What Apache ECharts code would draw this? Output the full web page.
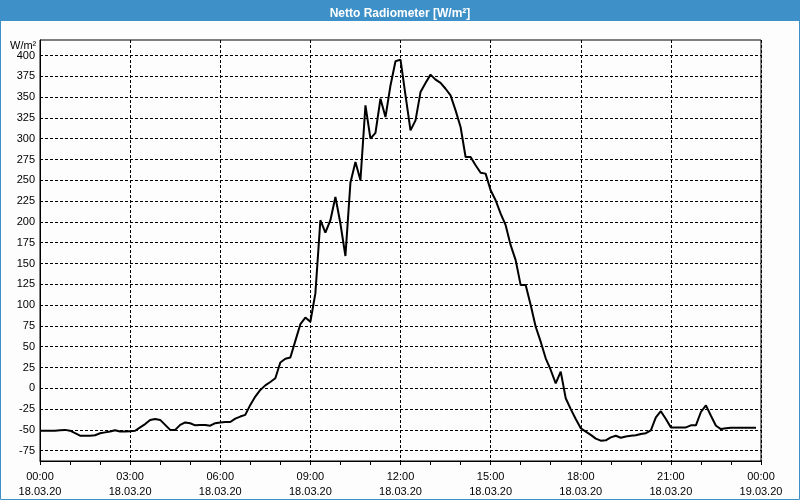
<!DOCTYPE html>
<html>
<head>
<meta charset="utf-8">
<script src="https://cdn.jsdelivr.net/npm/echarts@6/dist/echarts.min.js"></script>
<style>
html,body{margin:0;padding:0;background:#fcfdfc;}
#chart{width:800px;height:500px;}
</style>
</head>
<body>
<div id="chart"></div>
<script>
// ---- data ----
const chartTitle = 'Netto Radiometer [W/m²]';
const unitLabel = 'W/m²';
const dayLabel = '18.03.20';
const nextDayLabel = '19.03.20';
const stepMinutes = 10; // sampling interval, starting at 00:00
const values = [
  -51,-51,-51,-51,-50.5,-50,-51,-54,-57,-57,
  -57,-56.5,-54,-53,-52,-50.5,-52,-52,-51.5,-51,
  -47,-43,-38,-37,-38,-44,-50,-50,-44,-41,
  -42,-44.5,-44,-44,-45,-42,-41,-40.5,-40.5,-36.5,
  -34,-32,-20,-10,-2,3.5,7.5,12,31,35.5,
  37,57,77,85,80,114,202,187,202,230,
  198,159,247,272,250,340,300,307,348,326,
  364,393,395,352,310,322,356,367,377,371,
  367,360,352,334,314,278,278,268,259,258,
  238,226,210,196,172,154,124,124,100,74,
  56,36,22,6,20,-12,-25,-37,-48,-52,
  -56,-60.5,-63,-62.5,-59,-57,-59.5,-58,-57,-56.5,
  -55,-54,-50.5,-35,-27.5,-37,-47,-47,-47,-47,
  -44.5,-44.5,-28.5,-20.5,-33,-45,-49,-48,-47.5,-47.5,
  -47.5,-47.5,-47.5,-47.5
];
const yTicks = [-75,-50,-25,0,25,50,75,100,125,150,175,200,225,250,275,300,325,350,375,400];
const yMin = -87.4, yMax = 418.6;
const xMinHours = 0, xMaxHours = 24, xStepHours = 3;

// ---- chart ----
const font = 'Liberation Sans';
const data = values.map((v, i) => [i * stepMinutes / 60, v]);
function pad(n){ return (n < 10 ? '0' : '') + n; }

const chart = echarts.init(document.getElementById('chart'), null, {renderer: 'canvas'});
chart.setOption({
  animation: false,
  backgroundColor: '#fcfdfc',
  textStyle: {fontFamily: font},
  title: {
    text: chartTitle,
    left: 'center',
    top: 3,
    textStyle: {color: '#ffffff', fontSize: 12, fontWeight: 'bold', fontFamily: font}
  },
  graphic: [
    {type: 'rect', z: -1, shape: {x: 0, y: 0, width: 800, height: 21}, style: {fill: '#3d90c8'}},
    {type: 'rect', z: 100, shape: {x: 0.5, y: 0.5, width: 799, height: 499}, style: {fill: null, stroke: '#3d90c8', lineWidth: 1}},
    {type: 'text', left: 10, top: 40, style: {text: unitLabel, fill: '#000', font: '11px "' + font + '"'}}
  ],
  grid: {left: 40, right: 39, top: 40, bottom: 39, show: true, borderColor: '#000', borderWidth: 1, backgroundColor: 'transparent'},
  xAxis: {
    type: 'value',
    min: xMinHours, max: xMaxHours, interval: xStepHours,
    axisLine: {show: true, onZero: false, lineStyle: {color: '#000', width: 1}},
    axisTick: {show: true, length: 4, lineStyle: {color: '#000'}},
    minorTick: {show: true, splitNumber: 3, length: 4, lineStyle: {color: '#000'}},
    splitLine: {show: true, lineStyle: {color: '#000', type: [3, 2], width: 1}},
    axisLabel: {
      color: '#000', fontSize: 11, lineHeight: 15, margin: 8, fontFamily: font,
      formatter: function (v) {
        const h = Math.round(v);
        return pad(h % 24) + ':00\n' + (h < 24 ? dayLabel : nextDayLabel);
      }
    }
  },
  yAxis: {
    type: 'value',
    min: yMin, max: yMax,
    axisLine: {show: true, onZero: false, lineStyle: {color: '#000', width: 1}},
    axisTick: {show: false, customValues: yTicks},
    splitLine: {show: true, lineStyle: {color: '#000', type: [3, 2], width: 1}},
    axisLabel: {color: '#000', fontSize: 11, margin: 5, fontFamily: font, customValues: yTicks}
  },
  series: [{
    type: 'line',
    data: data,
    showSymbol: false,
    symbol: 'none',
    lineStyle: {color: '#000', width: 2},
    clip: true
  }]
});
</script>
</body>
</html>
